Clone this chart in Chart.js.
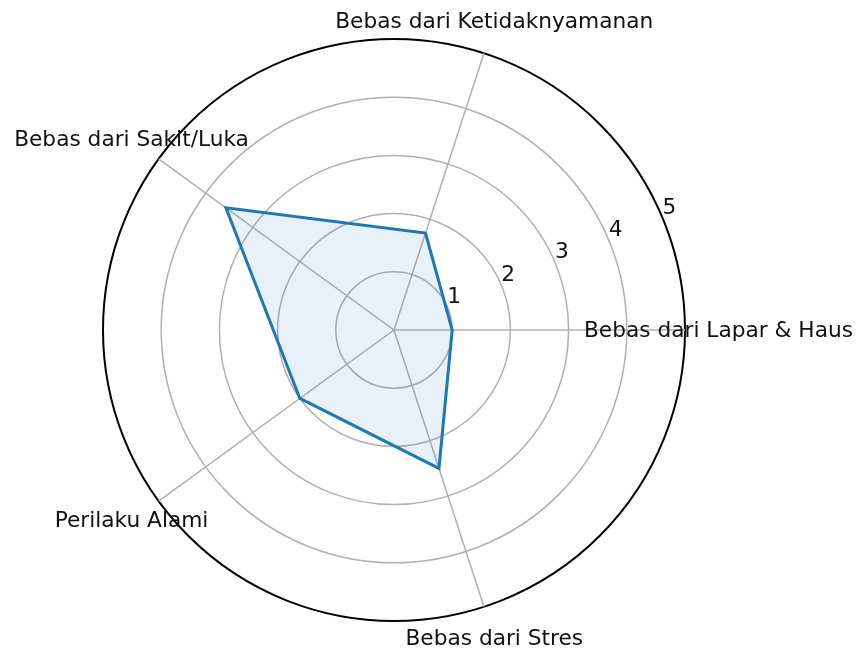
<!DOCTYPE html>
<html>
<head>
<meta charset="utf-8">
<script src="https://cdn.jsdelivr.net/npm/chart.js@4.4.1/dist/chart.umd.min.js"></script>
<style>
  html, body { margin: 0; padding: 0; background: #ffffff; }
  #wrap { width: 857px; height: 651px; }
</style>
</head>
<body>
<div id="wrap"><canvas id="c" width="857" height="651"></canvas></div>
<script>
// Categories in counter-clockwise order starting at the right (east)
const categories = [
  "Bebas dari Lapar & Haus",
  "Bebas dari Ketidaknyamanan",
  "Bebas dari Sakit/Luka",
  "Perilaku Alami",
  "Bebas dari Stres"
];
const values = [1.0, 1.75, 3.57, 2.0, 2.5];
const radialTicks = [1, 2, 3, 4, 5];

// Chart.js goes clockwise; reorder so that the visual order matches (counter-clockwise)
const order = [0, 4, 3, 2, 1];
const cjLabels = order.map(i => categories[i]);
const cjValues = order.map(i => values[i]);

const FONT = '21.7px "DejaVu Sans"';

const labelPlugin = {
  id: 'labelPlugin',
  afterDraw(chart) {
    const scale = chart.scales.r;
    const ctx = chart.ctx;
    ctx.save();
    ctx.font = FONT;
    ctx.fillStyle = '#111111';
    ctx.textAlign = 'center';
    ctx.textBaseline = 'middle';
    // point (category) labels, centered slightly outside the outer circle
    const outer = scale.getDistanceFromCenterForValue(scale.max) * 1.115;
    cjLabels.forEach((lab, i) => {
      const p = scale.getPointPosition(i, outer);
      ctx.fillText(lab, p.x, p.y + 1);
    });
    // radial tick labels along 22.5 degrees
    const ang = 22.5 * Math.PI / 180;
    radialTicks.forEach(v => {
      const d = scale.getDistanceFromCenterForValue(v);
      const x = scale.xCenter + d * Math.cos(ang) + 6.5;
      const y = scale.yCenter - d * Math.sin(ang) - 10.5;
      ctx.fillText(String(v), x, y);
    });
    ctx.restore();
  }
};

new Chart(document.getElementById('c'), {
  type: 'radar',
  data: {
    labels: cjLabels,
    datasets: [{
      data: cjValues,
      borderColor: '#1f77b4',
      backgroundColor: 'rgba(31,119,180,0.1)',
      borderWidth: 3,
      pointRadius: 0,
      pointHoverRadius: 0,
      fill: true,
      tension: 0
    }]
  },
  options: {
    responsive: false,
    animation: false,
    events: [],
    layout: { padding: { left: 103, right: 172, top: 39, bottom: 30 } },
    plugins: { legend: { display: false }, tooltip: { enabled: false }, title: { display: false } },
    scales: {
      r: {
        min: 0,
        max: 5,
        startAngle: 90,
        ticks: { display: false, stepSize: 1 },
        pointLabels: { display: false },
        angleLines: { display: true, color: '#b0b0b0', lineWidth: 1.5 },
        grid: {
          circular: true,
          color: ctx => (ctx.tick && ctx.tick.value === 5) ? '#000000' : '#b0b0b0',
          lineWidth: ctx => (ctx.tick && ctx.tick.value === 5) ? 2 : 1.5
        }
      }
    }
  },
  plugins: [labelPlugin]
});
</script>
</body>
</html>
